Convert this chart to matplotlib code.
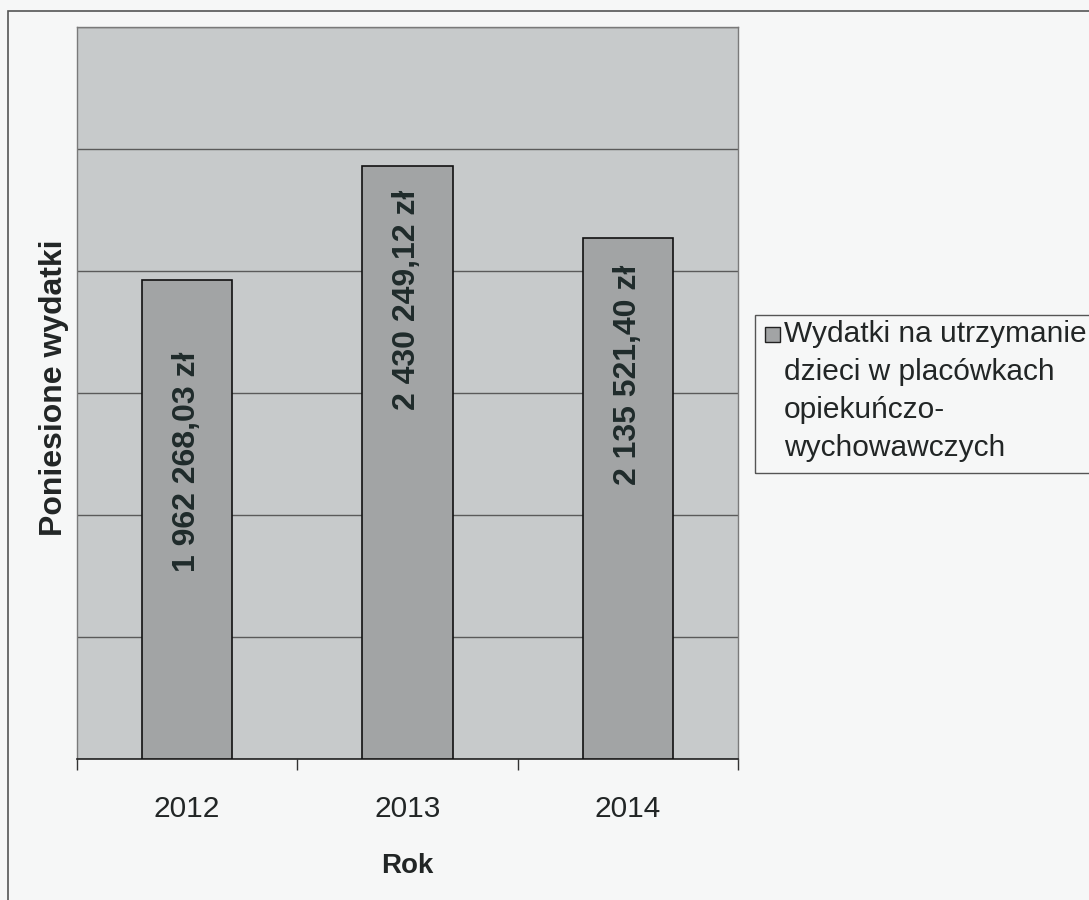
# -*- coding: utf-8 -*-
"""Wydatki na utrzymanie dzieci w placówkach opiekuńczo-wychowawczych, 2012-2014."""

import matplotlib
matplotlib.use("Agg")
import matplotlib.pyplot as plt
from matplotlib.patches import Rectangle

# dane
lata = ["2012", "2013", "2014"]
wydatki = [1962268.03, 2430249.12, 2135521.40]
etykieta_serii = "Wydatki na utrzymanie\ndzieci w placówkach\nopiekuńczo-\nwychowawczych"

# położenie środka etykiet w słupkach (jednostki osi y) - tak jak na oryginale
etykieta_y = [1217000, 1881000, 1574000]

plt.rcParams["font.family"] = ["Liberation Sans", "DejaVu Sans"]

BG = "#f6f7f7"
PLOT_BG = "#c7cacb"
BAR = "#a2a4a5"
TXT = "#222626"


def zl(v):
    calk, gr = f"{v:.2f}".split(".")
    calk = f"{int(calk):,}".replace(",", " ")
    return f"{calk},{gr} zł"


fig = plt.figure(figsize=(10.89, 9), dpi=100, facecolor=BG)
ax = fig.add_axes([77 / 1089, 1 - 759 / 900, 661 / 1089, 732 / 900])
ax.set_facecolor(PLOT_BG)

x = range(len(lata))
ax.bar(x, wydatki, width=0.41, color=BAR, edgecolor="#111111",
       linewidth=1.2, zorder=3)

for i, (v, yl) in enumerate(zip(wydatki, etykieta_y)):
    ax.text(i, yl, zl(v), rotation=90, ha="center", va="center",
            fontsize=23, weight="bold", color="#1f2b2b", zorder=4)

ax.set_xlim(-0.5, 2.5)
ax.set_ylim(0, 3000000)
ax.set_yticks(range(0, 3000001, 500000))
ax.set_yticklabels([])
ax.tick_params(axis="y", length=0)
ax.grid(axis="y", color="#5a5a5a", linewidth=1.0, zorder=1)

# podziałka osi x na granicach kategorii, etykiety na środkach
ax.set_xticks([-0.5, 0.5, 1.5, 2.5])
ax.set_xticklabels([])
ax.tick_params(axis="x", which="major", length=8, width=1.0, color="#333333")
ax.set_xticks(list(x), minor=True)
ax.set_xticklabels(lata, minor=True, fontsize=21.5, color=TXT)
ax.tick_params(axis="x", which="minor", length=0, pad=26)

for s in ["left", "top", "right"]:
    ax.spines[s].set_color("#7a7a7a")
    ax.spines[s].set_linewidth(1.0)
ax.spines["bottom"].set_color("#222222")
ax.spines["bottom"].set_linewidth(1.2)

ax.set_ylabel("Poniesione wydatki", fontsize=23, weight="bold", color=TXT)
ax.yaxis.set_label_coords(-0.012, 0.507)
ax.set_xlabel("Rok", fontsize=20, weight="bold", color=TXT)
ax.xaxis.set_label_coords(0.5, -0.129)

# ramka całego wykresu (wychodzi poza kadr z prawej i u dołu)
fig.patches.append(Rectangle((8 / 1089, -0.1), 1.2, 1 - 11 / 900 + 0.1,
                             transform=fig.transFigure, fill=False,
                             edgecolor="#555555", linewidth=1.2))

# legenda rysowana ręcznie
fig.patches.append(Rectangle((755 / 1089, 1 - 473 / 900), 0.4, 158 / 900,
                             transform=fig.transFigure, facecolor="none",
                             edgecolor="#555555", linewidth=1.0))
fig.patches.append(Rectangle((765 / 1089, 1 - 342 / 900), 15 / 1089, 15 / 900,
                             transform=fig.transFigure, facecolor=BAR,
                             edgecolor="#222222", linewidth=1.0))
fig.text(784 / 1089, 1 - 320 / 900, etykieta_serii, ha="left", va="top",
         fontsize=21.5, color=TXT, linespacing=1.46)

fig.savefig("out.png", dpi=100, facecolor=BG)
